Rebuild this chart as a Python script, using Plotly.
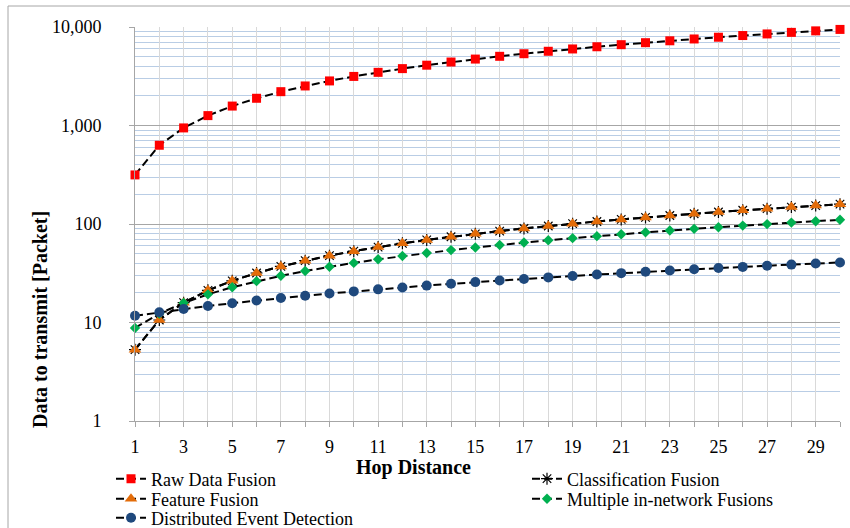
import plotly.graph_objects as go

hops = list(range(1, 31))
raw_data_fusion = [315, 630, 945, 1260, 1575, 1890, 2205, 2520, 2835, 3150,
                   3465, 3780, 4095, 4410, 4725, 5040, 5355, 5670, 5985, 6300,
                   6615, 6930, 7245, 7560, 7875, 8190, 8505, 8820, 9135, 9450]
classification_fusion = [5.3, 10.6, 15.9, 21.2, 26.5, 31.8, 37.1, 42.4, 47.7, 53.0,
                         58.3, 63.6, 68.9, 74.2, 79.5, 84.8, 90.1, 95.4, 100.7, 106.0,
                         111.3, 116.6, 121.9, 127.2, 132.5, 137.8, 143.1, 148.4, 153.7, 159.0]
feature_fusion = [5.3, 10.6, 15.9, 21.2, 26.5, 31.8, 37.1, 42.4, 47.7, 53.0,
                  58.3, 63.6, 68.9, 74.2, 79.5, 84.8, 90.1, 95.4, 100.7, 106.0,
                  111.3, 116.6, 121.9, 127.2, 132.5, 137.8, 143.1, 148.4, 153.7, 159.0]
multiple_fusions = [8.8, 12.3, 15.8, 19.3, 22.8, 26.3, 29.8, 33.3, 36.8, 40.3,
                    43.8, 47.3, 50.8, 54.3, 57.8, 61.3, 64.8, 68.3, 71.8, 75.3,
                    78.8, 82.3, 85.8, 89.3, 92.8, 96.3, 99.8, 103.3, 106.8, 110.3]
distributed_event = [11.7, 12.7, 13.7, 14.7, 15.7, 16.7, 17.7, 18.7, 19.7, 20.7,
                     21.7, 22.7, 23.7, 24.7, 25.7, 26.7, 27.7, 28.7, 29.7, 30.7,
                     31.7, 32.7, 33.7, 34.7, 35.7, 36.7, 37.7, 38.7, 39.7, 40.7]

x_tick_text = [str(h) if h % 2 == 1 else "" for h in hops]
y_tick_vals = [1, 10, 100, 1000, 10000]
y_tick_text = ["1", "10", "100", "1,000", "10,000"]

FONT = "Liberation Serif"
LINE = dict(color="black", width=2, dash="8px,4px")
W, H = 850, 528

# name, values, marker, legend id, legend position (px: left x, row center y)
series = [
    ("Raw Data Fusion", raw_data_fusion, dict(symbol="square", size=9, color="#FF0000"), "legend", (111, 479)),
    ("Classification Fusion", classification_fusion,
     dict(symbol="asterisk-open", size=10, color="black", line=dict(color="black", width=1.2)), "legend2", (527, 479)),
    ("Feature Fusion", feature_fusion, dict(symbol="triangle-up", size=11, color="#E36C09"), "legend3", (111, 499)),
    ("Multiple in-network Fusions", multiple_fusions, dict(symbol="diamond", size=8, color="#00B050"), "legend4", (527, 499)),
    ("Distributed Event Detection", distributed_event, dict(symbol="circle", size=10, color="#1F497D"), "legend5", (111, 518)),
]

fig = go.Figure()
legends = {}
for name, vals, mk, lg, (lx, ly) in series:
    fig.add_trace(go.Scatter(x=hops, y=vals, name=name, mode="lines+markers",
                             line=LINE, marker=mk, cliponaxis=False, legend=lg))
    legends[lg] = dict(orientation="v", xref="container", yref="container",
                       x=lx / W, y=1 - ly / H, xanchor="left", yanchor="middle",
                       font=dict(size=18, family=FONT, color="black"),
                       itemwidth=30, bgcolor="rgba(0,0,0,0)", borderwidth=0)

fig.update_layout(
    width=W, height=H,
    margin=dict(l=135, r=10, t=27, b=107, autoexpand=False),
    paper_bgcolor="white", plot_bgcolor="white",
    font=dict(family=FONT, size=18, color="black"),
    showlegend=True,
    **legends,
    xaxis=dict(range=[1, 30], tickmode="array", tickvals=hops, ticktext=x_tick_text,
               showgrid=True, gridcolor="#D9D9D9", gridwidth=1,
               showline=True, linecolor="#A6A6A6", linewidth=1,
               ticks="outside", ticklen=5, tickcolor="#A6A6A6",
               zeroline=False, ticklabelstandoff=4,
               tickfont=dict(size=18, family=FONT)),
    yaxis=dict(type="log", range=[0, 4], tickmode="array", tickvals=y_tick_vals, ticktext=y_tick_text,
               showgrid=True, gridcolor="#A6A6A6", gridwidth=1,
               showline=True, linecolor="#A6A6A6", linewidth=1,
               ticks="outside", ticklen=5, tickcolor="#A6A6A6",
               minor=dict(dtick="D1", showgrid=True, gridcolor="#B9CDE5", gridwidth=1, ticks=""),
               zeroline=False, ticklabelstandoff=24,
               tickfont=dict(size=18, family=FONT)),
    annotations=[
        dict(text="<b>Hop Distance</b>", xref="paper", yref="paper",
             x=(413 - 135) / 705, y=(421 - 467) / 394, xanchor="center", yanchor="middle",
             showarrow=False, font=dict(size=20, family=FONT, color="black")),
        dict(text="<b>Data to transmit [Packet]</b>", xref="paper", yref="paper",
             x=(40 - 135) / 705, y=(421 - 320) / 394, xanchor="center", yanchor="middle",
             textangle=-90, showarrow=False, font=dict(size=20, family=FONT, color="black")),
    ],
    shapes=[dict(type="rect", xref="paper", yref="paper",
                 x0=(8 - 135) / 705, x1=(855 - 135) / 705,
                 y0=(421 - 540) / 394, y1=(421 - 6) / 394,
                 line=dict(color="#A6A6A6", width=1), fillcolor="rgba(0,0,0,0)", layer="below")],
)

fig.write_html("out.html")
